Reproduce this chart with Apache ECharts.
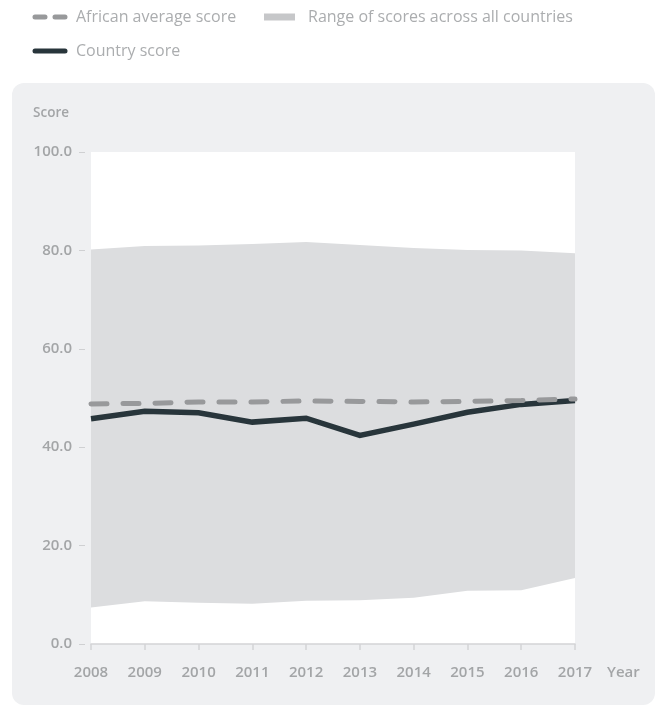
<!DOCTYPE html>
<html>
<head>
<meta charset="utf-8">
<script src="https://cdn.jsdelivr.net/npm/echarts@6/dist/echarts.min.js"></script>
<style>
html,body{margin:0;padding:0;background:#fff;}
#chart{width:656px;height:710px;}
</style>
</head>
<body>
<div id="chart"></div>
<script>
var years = ['2008','2009','2010','2011','2012','2013','2014','2015','2016','2017'];
var rangeHigh = [80.2, 80.9, 81.0, 81.3, 81.7, 81.1, 80.5, 80.1, 80.0, 79.4];
var rangeLow = [7.4, 8.7, 8.4, 8.2, 8.8, 8.9, 9.4, 10.8, 10.9, 13.4];
var africanAverage = [48.8, 48.9, 49.2, 49.2, 49.4, 49.3, 49.2, 49.3, 49.5, 49.8];
var countryScore = [45.8, 47.3, 47.0, 45.1, 45.9, 42.4, 44.7, 47.1, 48.7, 49.5];
var yTicks = [0, 20, 40, 60, 80, 100];

var rangeSpan = rangeHigh.map(function (v, i) { return +(v - rangeLow[i]).toFixed(2); });

var FONT = '"Open Sans", "Noto Sans", sans-serif';
var LABEL = '#a3a5a7';
var LEG = '#abadaf';
var CLEAR = 'rgba(0,0,0,0)';

var chart = echarts.init(document.getElementById('chart'), null, {renderer: 'canvas'});
chart.setOption({
  animation: false,
  textStyle: {fontFamily: FONT},
  graphic: [{
    type: 'rect', z: -10, silent: true,
    shape: {x: 12, y: 83, width: 643, height: 622, r: 12},
    style: {fill: '#eff0f2'}
  }],
  legend: [
    {
      left: 32.5, top: 9, padding: 0, itemWidth: 30, itemHeight: 20, itemGap: 0,
      textStyle: {color: LEG, fontSize: 16, fontFamily: FONT, padding: [0, 0, 0, 6]},
      data: [{name: 'African average score',
        itemStyle: {color: CLEAR, borderColor: CLEAR, borderWidth: 0, opacity: 0},
        lineStyle: {width: 5, color: '#98999b', type: [10, 10], cap: 'round'}}]
    },
    {
      left: 264, top: 9, padding: 0, itemWidth: 31, itemHeight: 7, itemGap: 0,
      textStyle: {color: LEG, fontSize: 16, fontFamily: FONT, padding: [0, 0, 0, 8]},
      data: [{name: 'Range of scores across all countries', icon: 'rect', itemStyle: {color: '#c6c7c9'}}]
    },
    {
      left: 32.5, top: 43, padding: 0, itemWidth: 30, itemHeight: 20, itemGap: 0,
      textStyle: {color: LEG, fontSize: 16, fontFamily: FONT, padding: [0, 0, 0, 6]},
      data: [{name: 'Country score',
        itemStyle: {color: CLEAR, borderColor: CLEAR, borderWidth: 0, opacity: 0},
        lineStyle: {width: 5, color: '#28353b', cap: 'round'}}]
    }
  ],
  grid: {left: 91, right: 81, top: 152, bottom: 66, show: true, backgroundColor: '#ffffff', borderWidth: 0},
  xAxis: {
    type: 'category', data: years, boundaryGap: false,
    name: 'Year', nameLocation: 'end', nameGap: 32,
    nameTextStyle: {color: LABEL, fontSize: 15, fontWeight: 600, fontFamily: FONT, verticalAlign: 'top', padding: [21, 0, 0, 0]},
    axisLine: {show: true, lineStyle: {color: '#d3d4d6', width: 1.5}},
    axisTick: {show: true, length: 6, lineStyle: {color: '#d3d4d6', width: 1.5}},
    axisLabel: {color: LABEL, fontSize: 15, fontWeight: 600, fontFamily: FONT, margin: 21},
    splitLine: {show: false}
  },
  yAxis: {
    type: 'value', min: 0, max: 100, interval: 20, offset: 6,
    name: 'Score', nameLocation: 'end', nameGap: 32,
    nameTextStyle: {color: LABEL, fontSize: 13.5, fontWeight: 600, fontFamily: FONT, align: 'right', padding: [0, 16, 0, 0]},
    axisLine: {show: false},
    axisTick: {show: true, length: 6, lineStyle: {color: '#cfd0d2', width: 1}},
    axisLabel: {color: LABEL, fontSize: 15, fontWeight: 600, fontFamily: FONT, margin: 13,
      formatter: function (v) { return v.toFixed(1); }},
    splitLine: {show: false}
  },
  series: [
    {
      name: 'low', type: 'line', stack: 'range', data: rangeLow,
      symbol: 'none', lineStyle: {opacity: 0}, silent: true, z: 1
    },
    {
      name: 'Range of scores across all countries', type: 'line', stack: 'range', data: rangeSpan,
      symbol: 'none', lineStyle: {opacity: 0}, areaStyle: {color: '#dcdddf', opacity: 1}, z: 1,
      itemStyle: {color: '#c6c7c9'}
    },
    {
      name: 'Country score', type: 'line', data: countryScore,
      symbol: 'none', lineStyle: {color: '#28353b', width: 5.5, join: 'miter'}, itemStyle: {color: '#28353b'}, z: 3
    },
    {
      name: 'African average score', type: 'line', data: africanAverage,
      symbol: 'none', lineStyle: {color: '#98999b', width: 5, type: [16, 16], cap: 'round'}, itemStyle: {color: '#98999b'}, z: 4
    }
  ]
});
</script>
</body>
</html>
